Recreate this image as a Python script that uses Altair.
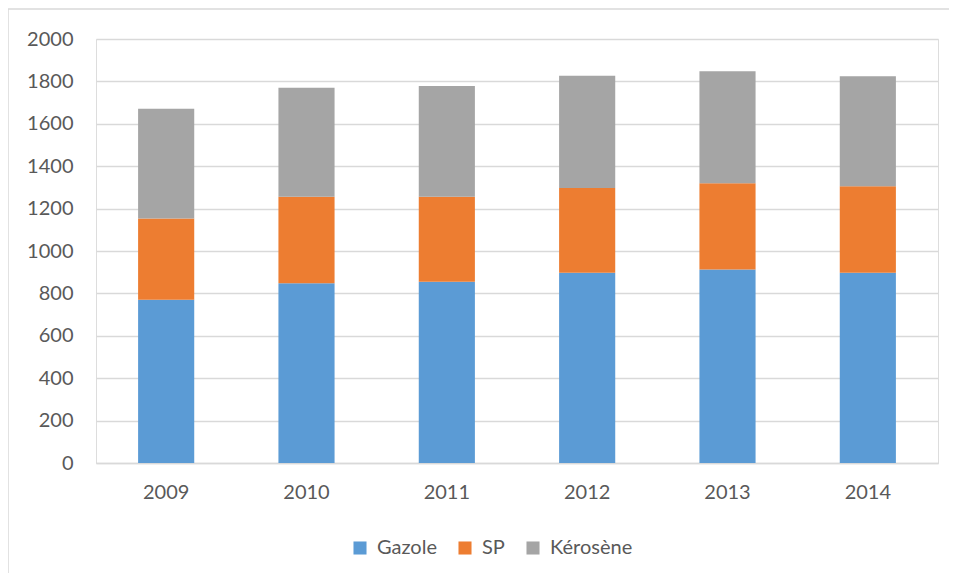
import altair as alt
import pandas as pd

years = ["2009", "2010", "2011", "2012", "2013", "2014"]
series = ["Gazole", "SP", "Kérosène"]
gazole = [770, 848, 855, 897, 913, 897]
sp = [383, 408, 401, 400, 407, 408]
kerosene = [518, 514, 522, 530, 528, 519]
colors = ["#5b9bd5", "#ed7d31", "#a5a5a5"]

rows = []
for i, y in enumerate(years):
    for k, (name, vals) in enumerate(zip(series, [gazole, sp, kerosene])):
        rows.append({"year": y, "type": name, "value": vals[i], "order": k})
df = pd.DataFrame(rows)

FONT = "Lato"
FS = 20
W, H = 842, 424

frame = alt.Chart(pd.DataFrame({"a": [0]})).mark_rect(
    fillOpacity=0, stroke="#d9d9d9", strokeWidth=1.5
).encode(
    x=alt.value(-88), x2=alt.value(W + 60),
    y=alt.value(-30), y2=alt.value(H + 160)
)

bars = alt.Chart(df).mark_bar().encode(
    x=alt.X("year:N", sort=years, title=None,
            scale=alt.Scale(paddingInner=0.6, paddingOuter=0.3),
            axis=alt.Axis(labelAngle=0, ticks=False, domain=True, domainColor="#d9d9d9",
                          domainWidth=1.5, labelPadding=19, labelFontSize=FS,
                          labelColor="#595959", labelFont=FONT, grid=False)),
    y=alt.Y("value:Q", stack="zero", title=None,
            scale=alt.Scale(domain=[0, 2000]),
            axis=alt.Axis(values=list(range(0, 2001, 200)), format="d", ticks=False,
                          domain=False, gridColor="#d9d9d9", gridWidth=1.5, labelPadding=23,
                          labelFontSize=FS, labelColor="#595959", labelFont=FONT)),
    color=alt.Color("type:N", sort=series,
                    scale=alt.Scale(domain=series, range=colors),
                    legend=alt.Legend(title=None, orient="none", direction="horizontal",
                                      legendX=254, legendY=499, symbolType="square",
                                      symbolSize=170, symbolStrokeWidth=0,
                                      labelFontSize=FS, labelColor="#595959",
                                      labelFont=FONT, columnPadding=18, labelOffset=7,
                                      gridAlign="none")),
    order=alt.Order("order:Q")
)

chart = alt.layer(frame, bars).properties(
    width=W, height=H,
    padding={"left": 88, "top": 31, "right": 11, "bottom": 110},
    autosize=alt.AutoSizeParams(type="none")
).configure_view(stroke=None).configure(background="white")

chart.save("out.html", embed_options={"renderer": "svg", "actions": False})
